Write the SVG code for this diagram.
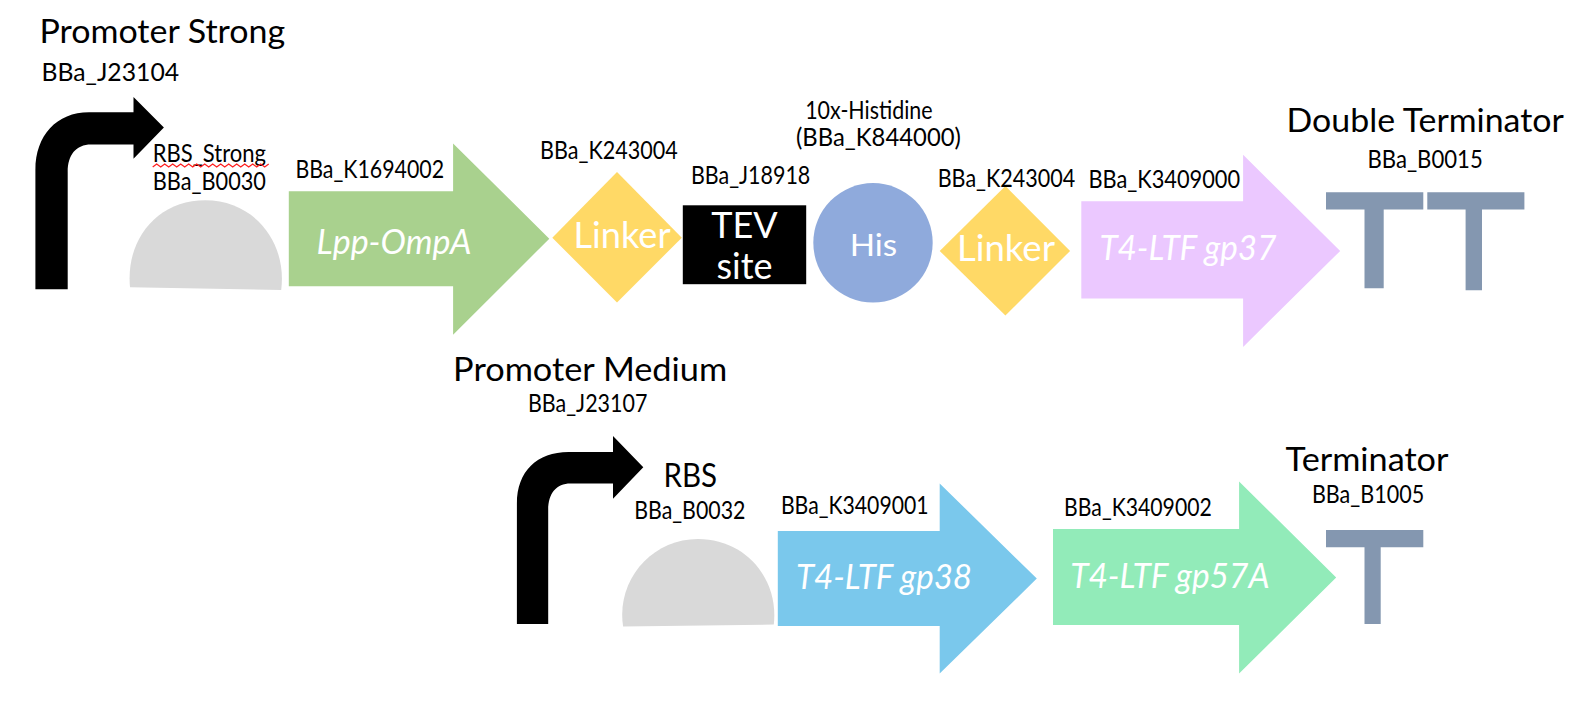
<svg xmlns="http://www.w3.org/2000/svg" width="1586" height="708" viewBox="0 0 1586 708">
<style>
text{font-family:"Lato","Open Sans","Liberation Sans",sans-serif;fill:#000}
.h{font-size:33px}
.l{font-size:24.500px}
.w{fill:#fff;font-size:36px}
.i{fill:#fff;font-style:italic;font-size:34px}
.t{fill:#8497B0}
.r{fill:#D9D9D9}
</style>
<rect width="1586" height="708" fill="#fff"/>
<g id="promoter-strong">
<path d="M35.400 289.300V170C35.400 135.500 56.600 112.300 89 112.300H133.500V97L163.900 127.400L133.500 158.800V144.600H91C76 144.600 67.700 155 67.700 172V289.300Z"/>
<text class="h" x="39.400" y="42.500" textLength="245.800" lengthAdjust="spacingAndGlyphs">Promoter Strong</text>
<text class="l" x="41.500" y="80.900" textLength="137.600" lengthAdjust="spacingAndGlyphs">BBa_J23104</text>
</g>
<g id="rbs-strong">
<path class="r" d="M130 287.300C125.500 238.700 157.800 200.300 205.300 200.300C252.900 200.300 287.300 240.700 281.200 290Z"/>
<text class="l" x="152.700" y="162.300" textLength="113.300" lengthAdjust="spacingAndGlyphs">RBS_Strong</text>
<path d="M152.700 167l4-3 4 3 4-3 4 3 4-3 4 3 4-3 4 3 4-3 4 3 4-3 4 3 4-3 4 3 4-3 4 3 4-3 4 3 4-3 4 3 4-3 4 3 4-3 4 3 4-3 4 3 4-3 4 3 4-3" fill="none" stroke="#f22" stroke-width="1.300"/>
<text class="l" x="152.700" y="190" textLength="113.300" lengthAdjust="spacingAndGlyphs">BBa_B0030</text>
</g>
<g id="lpp-ompa">
<path fill="#A9D18E" d="M288.800 191.200H453.100V143.600L549.300 238.700L453.100 334.800V286.300H288.800Z"/>
<text class="l" x="295.400" y="177.500" textLength="148.700" lengthAdjust="spacingAndGlyphs">BBa_K1694002</text>
<text class="i" x="316.600" y="253.500" textLength="154.800" lengthAdjust="spacingAndGlyphs">Lpp-OmpA</text>
</g>
<g id="linker-1">
<path fill="#FFD966" d="M552.300 237.700L617 172L681.800 237.700L617 302.400Z"/>
<text class="l" x="540.100" y="158.500" textLength="137.600" lengthAdjust="spacingAndGlyphs">BBa_K243004</text>
<text class="w" x="573.500" y="248.300" textLength="97.100" lengthAdjust="spacingAndGlyphs">Linker</text>
</g>
<g id="tev-site">
<rect x="682.800" y="205.300" width="123.400" height="78.900" fill="#000"/>
<text class="l" x="690.900" y="183.800" textLength="119.400" lengthAdjust="spacingAndGlyphs">BBa_J18918</text>
<text class="w" x="744.500" y="237.500" text-anchor="middle">TEV</text>
<text class="w" x="744.500" y="279" text-anchor="middle">site</text>
</g>
<g id="his-tag">
<circle cx="873" cy="242.800" r="59.700" fill="#8FAADC"/>
<text class="l" x="805.200" y="119" textLength="127.400" lengthAdjust="spacingAndGlyphs">10x-Histidine</text>
<text class="l" x="796" y="146.400" textLength="164.900" lengthAdjust="spacingAndGlyphs">(BBa_K844000)</text>
<text class="w" x="849.700" y="255.500" textLength="47.500" lengthAdjust="spacingAndGlyphs" style="font-size:30px">His</text>
</g>
<g id="linker-2">
<path fill="#FFD966" d="M939.700 250.900L1005.400 186.100L1070.100 250.900L1005.400 315.600Z"/>
<text class="l" x="937.700" y="186.800" textLength="137.600" lengthAdjust="spacingAndGlyphs">BBa_K243004</text>
<text class="w" x="956.900" y="260.500" textLength="98.100" lengthAdjust="spacingAndGlyphs">Linker</text>
</g>
<g id="gp37">
<path fill="#EBC8FF" d="M1081.300 201.300H1243.100V154.800L1340.200 250.900L1243.100 346.900V298.400H1081.300Z"/>
<text class="l" x="1088.400" y="187.800" textLength="151.700" lengthAdjust="spacingAndGlyphs">BBa_K3409000</text>
<text class="i" x="1099.400" y="259.500" textLength="177" lengthAdjust="spacingAndGlyphs">T4-LTF gp37</text>
</g>
<g id="double-terminator">
<path class="t" d="M1326 192.200H1423.300V209.400H1383.700V288.300H1364.500V209.400H1326Z"/>
<path class="t" d="M1427.300 192.200H1524.400V209.400H1482V290.300H1465.600V209.400H1427.300Z"/>
<text class="h" x="1286.600" y="131.500" textLength="277.200" lengthAdjust="spacingAndGlyphs">Double Terminator</text>
<text class="l" x="1367.500" y="167.600" textLength="115.300" lengthAdjust="spacingAndGlyphs">BBa_B0015</text>
</g>
<g id="promoter-medium">
<path d="M516.900 624.100V503.700C516.900 471.400 537.100 452.100 568.500 452.100H613V436L643.300 467.300L613 498.700V483.500H570.500C556.300 483.500 548.200 493.600 548.200 509.800V624.100Z"/>
<text class="h" x="453.100" y="381.300" textLength="274.100" lengthAdjust="spacingAndGlyphs">Promoter Medium</text>
<text class="l" x="528" y="412.400" textLength="119.400" lengthAdjust="spacingAndGlyphs">BBa_J23107</text>
</g>
<g id="rbs-medium">
<path class="r" d="M623.100 626.600C616 580.600 651.400 539.100 697.900 539.100C745.500 539.100 778.900 578.600 773.800 624.600Z"/>
<text class="h" x="663.500" y="486.500" textLength="53.600" lengthAdjust="spacingAndGlyphs">RBS</text>
<text class="l" x="634.200" y="518.600" textLength="111.300" lengthAdjust="spacingAndGlyphs">BBa_B0032</text>
</g>
<g id="gp38">
<path fill="#7AC8EC" d="M777.800 531H939.700V483.500L1036.800 578.600L939.700 673.600V626.100H777.800Z"/>
<text class="l" x="780.900" y="513.500" textLength="147.700" lengthAdjust="spacingAndGlyphs">BBa_K3409001</text>
<text class="i" x="796" y="589.300" textLength="176" lengthAdjust="spacingAndGlyphs">T4-LTF gp38</text>
</g>
<g id="gp57a">
<path fill="#92EBB9" d="M1053 529H1239.100V481.500L1336.200 577.600L1239.100 673.600V625.100H1053Z"/>
<text class="l" x="1064.100" y="515.600" textLength="147.700" lengthAdjust="spacingAndGlyphs">BBa_K3409002</text>
<text class="i" x="1070.200" y="588.300" textLength="199.300" lengthAdjust="spacingAndGlyphs">T4-LTF gp57A</text>
</g>
<g id="terminator">
<path class="t" d="M1326 530H1423.300V547.200H1380.700V624.100H1364.500V547.200H1326Z"/>
<text class="h" x="1285.600" y="471.300" textLength="162.900" lengthAdjust="spacingAndGlyphs">Terminator</text>
<text class="l" x="1311.900" y="503.400" textLength="112.300" lengthAdjust="spacingAndGlyphs">BBa_B1005</text>
</g>
</svg>
